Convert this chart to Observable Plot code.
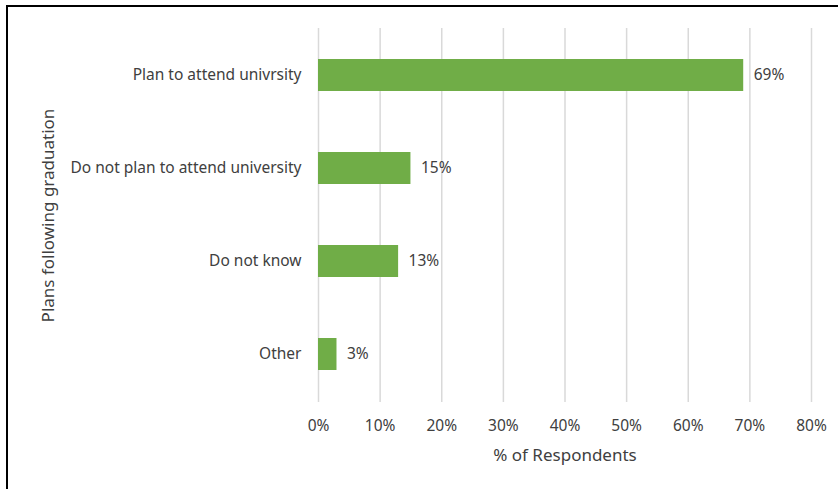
<!DOCTYPE html>
<html>
<head>
<meta charset="utf-8">
<script src="https://cdn.jsdelivr.net/npm/d3@7"></script>
<script src="https://cdn.jsdelivr.net/npm/@observablehq/plot@0.6"></script>
<style>
  html, body { margin: 0; padding: 0; background: #fff; }
  #wrap { position: relative; width: 838px; height: 489px; overflow: hidden; }
  #frame { position: absolute; left: 6px; top: 5px; width: 900px; height: 600px; border-top: 2px solid #000; border-left: 2px solid #000; pointer-events: none; }
  svg { display: block; }
</style>
</head>
<body>
<div id="wrap"><div id="frame"></div></div>
<script>
const categories = ["Plan to attend univrsity", "Do not plan to attend university", "Do not know", "Other"];
const values = [69, 15, 13, 3];
const xTicks = [0, 10, 20, 30, 40, 50, 60, 70, 80];

const data = categories.map((c, i) => ({category: c, value: values[i]}));

const chart = Plot.plot({
  width: 838,
  height: 489,
  marginLeft: 318,
  marginRight: 27,
  marginTop: 28,
  marginBottom: 87,
  style: {fontFamily: "Noto Sans, sans-serif", fontSize: "15.5px", color: "#404040", background: "transparent"},
  x: {domain: [0, 80], ticks: xTicks, tickFormat: d => d + "%", label: null},
  y: {domain: categories, paddingInner: 0.655, paddingOuter: 0.3275, label: null},
  marks: [
    Plot.gridX(xTicks, {stroke: "#d9d9d9", strokeOpacity: 1, strokeWidth: 1.5}),
    Plot.barX(data, {x: "value", y: "category", fill: "#70ad47"}),
    Plot.text(data, {x: "value", y: "category", text: d => d.value + "%", textAnchor: "start", dx: 10, fill: "#404040", fontSize: 15.5}),
    Plot.axisX(xTicks, {tickSize: 0, tickPadding: 17, tickFormat: d => d + "%", fontSize: 15.5, fill: "#404040", label: null}),
    Plot.axisY(categories, {tickSize: 0, tickPadding: 17, fontSize: 15.5, fill: "#404040", label: null}),
    Plot.text(["% of Respondents"], {frameAnchor: "bottom", lineAnchor: "middle", dy: 53, fontSize: 17, fill: "#404040"}),
    Plot.text(["Plans following graduation"], {frameAnchor: "left", textAnchor: "middle", lineAnchor: "middle", dx: -270, rotate: -90, fontSize: 17, fill: "#404040"})
  ]
});
document.getElementById("wrap").prepend(chart);
</script>
</body>
</html>
